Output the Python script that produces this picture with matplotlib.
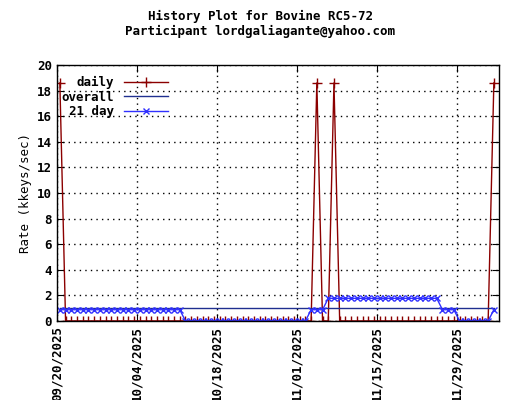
import matplotlib
matplotlib.use("Agg")
import matplotlib.pyplot as plt
import matplotlib.dates as mdates
import datetime as dt

start = dt.datetime(2025, 9, 20, 12)
dates = [start + dt.timedelta(days=i) for i in range(77)]
daily = [18.6] + [0]*44 + [18.6, 0, 0, 18.6] + [0]*27 + [18.6]
day21 = [0.88]*22 + [0]*22 + [0.88]*3 + [1.77]*20 + [0.88]*3 + [0]*6 + [0.88]
overall = [0.98]*77

plt.rcParams['font.family'] = ['DejaVu Sans Mono']
plt.rcParams['font.weight'] = 'bold'
plt.rcParams['font.size'] = 9
fig = plt.figure(figsize=(5.2, 4), dpi=100)
ax = fig.add_axes([57/520, 1-321/400, 442/520, 256/400])
ax.plot(dates, daily, color='#8b0000', marker='+', ms=7, lw=1, label='daily')
ax.plot(dates, overall, color='#1f2f8f', lw=1, label='overall')
ax.plot(dates, day21, color='#3030ff', marker='x', ms=5, lw=1, label='21 day')
ax.set_xlim(dt.datetime(2025, 9, 20), dt.datetime(2025, 9, 20) + dt.timedelta(days=77.4))
ax.set_ylim(0, 20)
ax.set_yticks(range(0, 21, 2))
ticks = [dt.datetime(2025, 9, 20) + dt.timedelta(days=14*i) for i in range(6)]
ax.set_xticks(ticks)
ax.xaxis.set_major_formatter(mdates.DateFormatter('%m/%d/%Y'))
plt.setp(ax.get_xticklabels(), rotation=90)
ax.grid(True, color='black', ls=(0, (1, 3)), lw=1)
ax.tick_params(direction='in', length=5, top=True, right=True)
for s in ax.spines.values():
    s.set_linewidth(1)
ax.set_ylabel('Rate (kkeys/sec)')
fig.suptitle('History Plot for Bovine RC5-72\nParticipant lordgaliagante@yahoo.com', y=0.975, fontsize=9, weight='bold')
leg = ax.legend(loc='upper left', frameon=False, markerfirst=False, handlelength=3.5, borderaxespad=0.3, labelspacing=0.1, bbox_to_anchor=(-0.01, 0.99))
for t in leg.get_texts():
    t.set_ha('right')
fig.savefig('out.png')
